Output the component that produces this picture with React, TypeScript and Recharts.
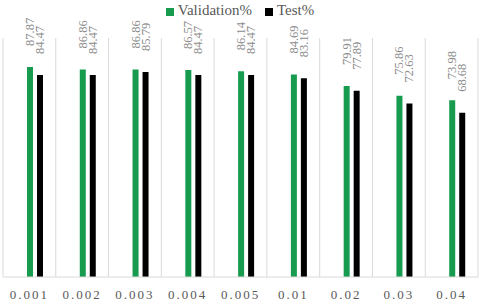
import { BarChart, Bar, XAxis, YAxis, CartesianGrid, Legend, Rectangle } from "recharts"

// learning rates on the x axis
const categories = ["0.001", "0.002", "0.003", "0.004", "0.005", "0.01", "0.02", "0.03", "0.04"]
const validation = [87.87, 86.86, 86.86, 86.57, 86.14, 84.69, 79.91, 75.86, 73.98]
const test = [84.47, 84.47, 85.79, 84.47, 84.47, 83.16, 77.89, 72.63, 68.68]
const seriesOrder = ["Validation%", "Test%"]

const data = categories.map((name, i) => ({
  name,
  validation: validation[i],
  test: test[i],
}))

const FONT = "'Liberation Serif', 'Times New Roman', serif"
const GREEN = "#169b4f"
const BLACK = "#000000"
const SHIFT = 6 // Excel draws the bar pair a bit right of the category centre
const LABEL_GAP = 21

// bar + its rotated value label, both shifted together
const barWithLabel = (key: string) => (props: any) => {
  const { x, y, width } = props
  const value = props.payload ? props.payload[key] : props.value
  const cx = x + width / 2 + SHIFT
  const cy = y - LABEL_GAP
  return (
    <g>
      <Rectangle {...props} x={x + SHIFT} />
      <text
        x={0}
        y={0}
        transform={`translate(${cx} ${cy}) rotate(-90)`}
        textAnchor="start"
        dominantBaseline="central"
        style={{ fontFamily: FONT, fontSize: 12.5, fill: "#8c8c8c" }}
      >
        {value}
      </text>
    </g>
  )
}

// vertical grid lines sit on category boundaries, taken from the band scale
const boundaryLines = ({ xAxis, offset }: any) => {
  const s = xAxis && xAxis.scale
  if (s && typeof s === "function" && s.bandwidth) {
    const bw = s.bandwidth()
    const starts = categories.map((c) => s(c))
    return [...starts, starts[starts.length - 1] + bw]
  }
  const step = offset.width / categories.length
  return [...categories.map((_, i) => offset.left + i * step), offset.left + offset.width]
}

const renderLegend = (props: any) => {
  const items = [...props.payload].sort(
    (a: any, b: any) => seriesOrder.indexOf(a.value) - seriesOrder.indexOf(b.value)
  )
  return (
    <div style={{ display: "flex", justifyContent: "center", fontFamily: FONT, fontSize: 15, color: "#595959" }}>
      {items.map((p: any, i: number) => (
        <span key={p.value} style={{ display: "flex", alignItems: "center", marginLeft: i ? 13 : 0 }}>
          <span style={{ width: 8, height: 8, background: p.color, marginRight: 4, marginTop: 2 }} />
          {p.value}
        </span>
      ))}
    </div>
  )
}

export default function App() {
  return (
    <div style={{ position: "absolute", left: 0, top: 0 }}>
      <BarChart
        width={480}
        height={305}
        data={data}
        margin={{ top: 38, right: 2, left: 3, bottom: 0 }}
        barSize={6}
        barGap={4}
      >
        <CartesianGrid horizontal={false} stroke="#d9d9d9" verticalCoordinatesGenerator={boundaryLines} />
        <XAxis
          dataKey="name"
          height={28}
          tickSize={0}
          tickMargin={13}
          axisLine={{ stroke: "#d9d9d9" }}
          tickLine={false}
          interval={0}
          tick={{ fontFamily: FONT, fontSize: 13, fill: "#595959", letterSpacing: 2 }}
        />
        <YAxis domain={[0, 100]} hide />
        <Legend
          layout="horizontal"
          verticalAlign="middle"
          align="center"
          wrapperStyle={{ top: 2, left: 0, width: 480 }}
          content={renderLegend}
        />
        <Bar dataKey="validation" name="Validation%" fill={GREEN} shape={barWithLabel("validation")} isAnimationActive={false} />
        <Bar dataKey="test" name="Test%" fill={BLACK} shape={barWithLabel("test")} isAnimationActive={false} />
      </BarChart>
    </div>
  )
}
